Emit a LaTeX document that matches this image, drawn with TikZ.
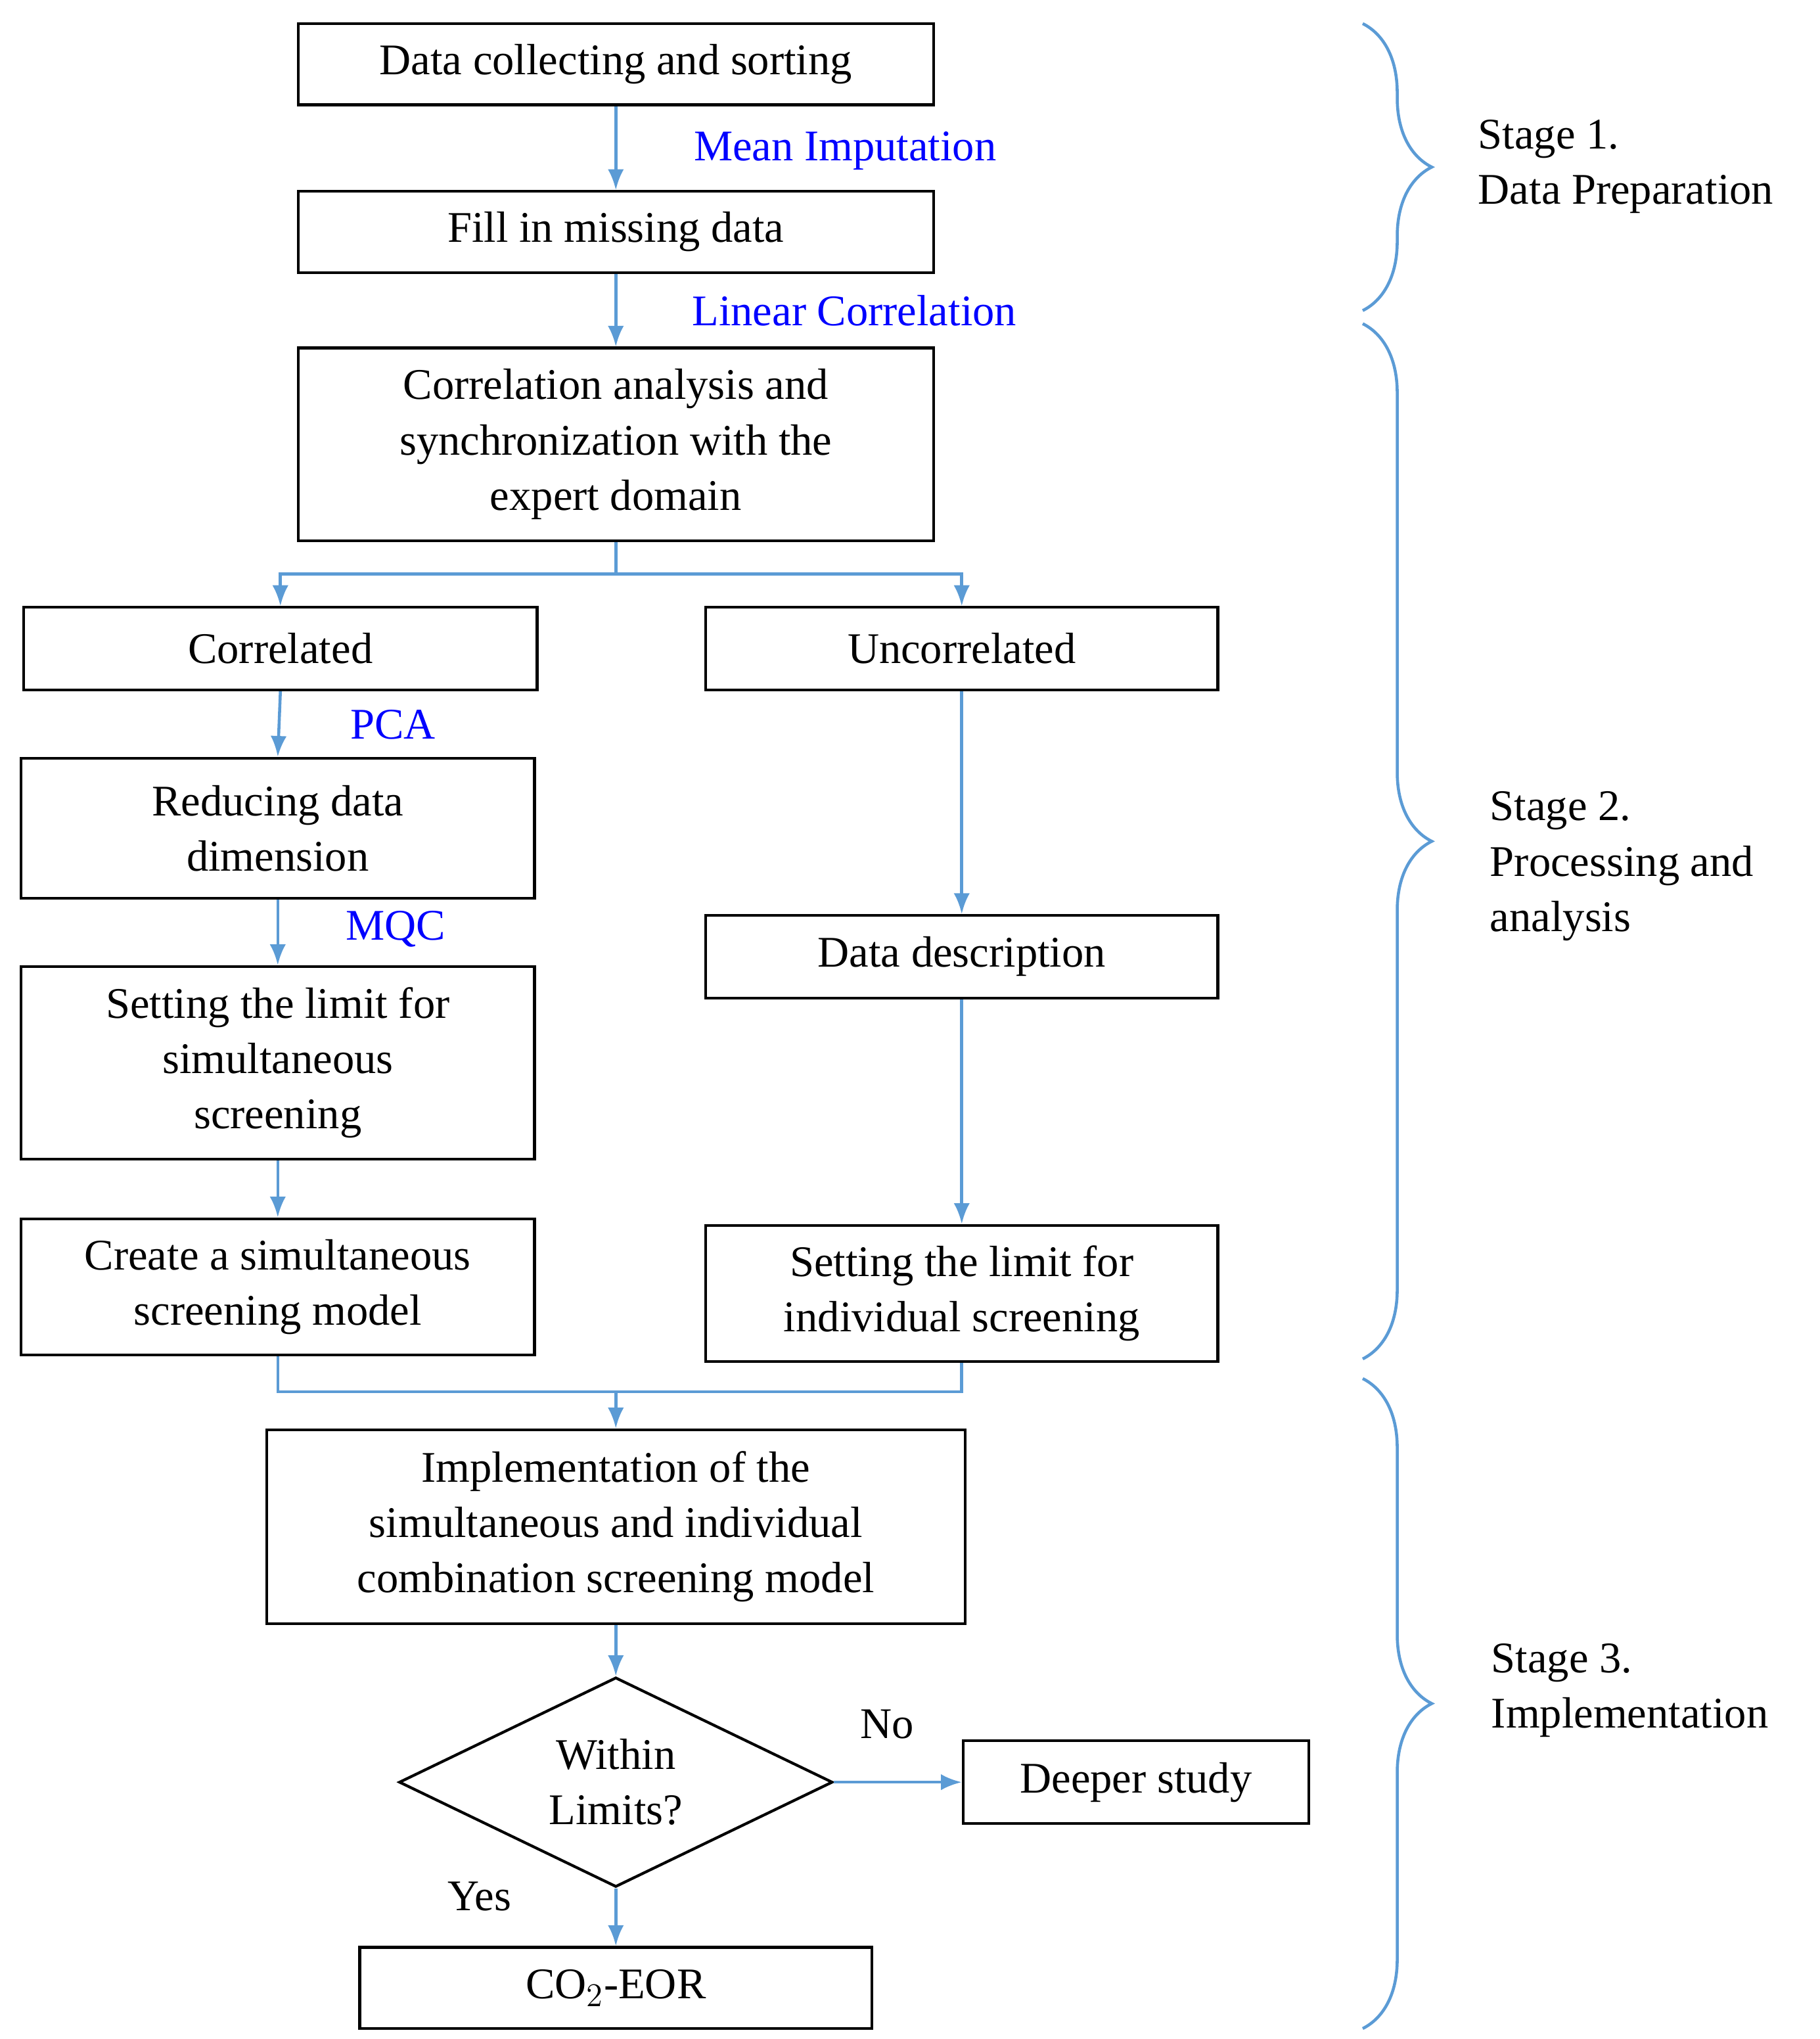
\documentclass[tikz,border=0pt]{standalone}
\usepackage{fontspec}
\setmainfont{Liberation Serif}
\usetikzlibrary{shapes.geometric,decorations.pathreplacing,arrows.meta}
\begin{document}
\begin{tikzpicture}[x=0.02cm,y=-0.02cm,
  box/.style={draw,line width=1.2pt,align=center,inner sep=0pt,font=\fontsize{19}{24}\selectfont},
  lab/.style={text=blue,font=\fontsize{19}{24}\selectfont},
  txt/.style={align=left,font=\fontsize{19}{24}\selectfont},
  ar/.style={draw=lb,line width=1.3pt,-{Latex[length=9pt,width=7pt]}},
  ln/.style={draw=lb,line width=1.3pt},
  br/.style={draw=lb,line width=1.3pt,decorate,decoration={brace,amplitude=30pt}}]
\definecolor{lb}{HTML}{5B9BD5}
\useasboundingbox (0,0) rectangle (1389,1556);
\node[box,minimum width=485\pgflinewidth*0+9.7cm,minimum height=1.24cm] (b1) at (470,49) {Data collecting and sorting};
\node[box,minimum width=9.7cm,minimum height=1.24cm] (b2) at (470,177) {Fill in missing data};
\node[box,minimum width=9.7cm,minimum height=2.94cm] (b3) at (470,339) {Correlation analysis and\\synchronization with the\\expert domain};
\node[box,minimum width=7.84cm,minimum height=1.26cm] (cor) at (214,495) {Correlated};
\node[box,minimum width=7.82cm,minimum height=1.26cm] (unc) at (734,495) {Uncorrelated};
\node[box,minimum width=7.84cm,minimum height=2.14cm] (red) at (212,632) {Reducing data\\dimension};
\node[box,minimum width=7.84cm,minimum height=2.94cm] (sim) at (212,811) {Setting the limit for\\simultaneous\\screening};
\node[box,minimum width=7.84cm,minimum height=2.08cm] (cre) at (212,982) {Create a simultaneous\\screening model};
\node[box,minimum width=7.82cm,minimum height=1.26cm] (dd) at (734,730) {Data description};
\node[box,minimum width=7.82cm,minimum height=2.08cm] (ind) at (734,987) {Setting the limit for\\individual screening};
\node[box,minimum width=10.66cm,minimum height=2.96cm] (imp) at (470,1165) {Implementation of the\\simultaneous and individual\\combination screening model};
\node[box,diamond,aspect=2.07,minimum width=6.62cm,minimum height=3.2cm] (dia) at (470,1360) {Within\\Limits?};
\node[box,minimum width=5.28cm,minimum height=1.26cm] (dp) at (867,1360) {Deeper study};
\node[box,minimum width=7.82cm,minimum height=1.24cm] (co) at (470,1517) {CO$_2$-EOR};
\node[lab] (l1) at (645,115) {Mean Imputation};
\node[lab] (l2) at (652,237) {Linear Correlation};
\node[lab] (l3) at (300,553) {PCA};
\node[lab] (l4) at (302,709) {MQC};
\node[txt] (no) at (677,1316) {No};
\node[txt] (yes) at (366,1447) {Yes};
\draw[ar] (b1) -- (b2);
\draw[ar] (b2) -- (b3);
\coordinate (j1) at (470,438);
\draw[ln] (b3.south) -- (j1);
\draw[ar] (j1) -- (214,438) -- (cor.north);
\draw[ar] (j1) -- (734,438) -- (unc.north);
\draw[ar] (cor.south) -- (red.north);
\draw[ar] (red) -- (sim);
\draw[ar] (sim) -- (cre);
\draw[ar] (unc) -- (dd);
\draw[ar] (dd) -- (ind);
\coordinate (j2) at (470,1062);
\draw[ln] (cre.south) -- (212,1062) -- (734,1062) -- (ind.south);
\draw[ar] (j2) -- (imp.north);
\draw[ar] (imp) -- (dia);
\draw[ar] (dia) -- (dp);
\draw[ar] (dia) -- (co);
\coordinate (s1a) at (1040,18); \coordinate (s1b) at (1040,237);
\coordinate (s2a) at (1040,247); \coordinate (s2b) at (1040,1037);
\coordinate (s3a) at (1040,1052); \coordinate (s3b) at (1040,1548);
\draw[br] (s1a) -- (s1b);
\draw[br] (s2a) -- (s2b);
\draw[br] (s3a) -- (s3b);
\node[txt,anchor=west] (st1) at (1122,127) {Stage 1.\\Data Preparation};
\node[txt,anchor=west] (st2) at (1131,661) {Stage 2.\\Processing and\\analysis};
\node[txt,anchor=west] (st3) at (1132,1290) {Stage 3.\\Implementation};
\end{tikzpicture}
\end{document}
